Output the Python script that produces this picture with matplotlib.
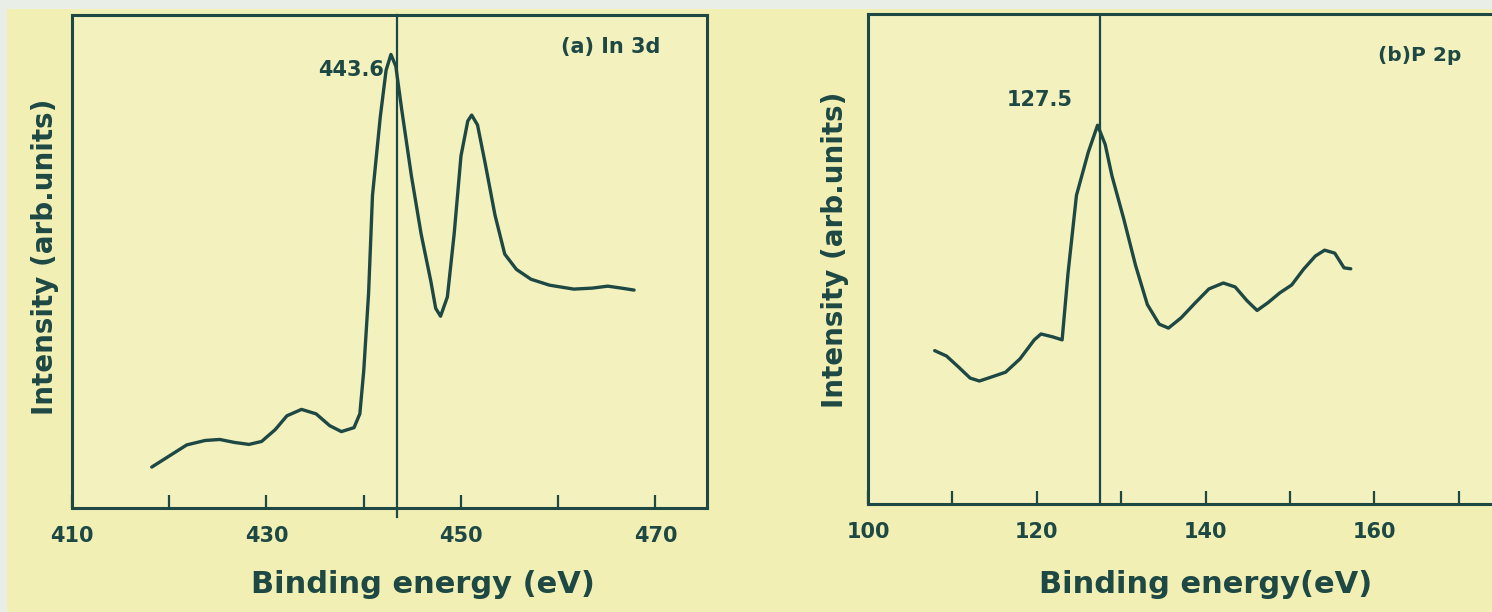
import matplotlib
matplotlib.use("Agg")
import matplotlib.pyplot as plt
from matplotlib.patches import Rectangle

# ---------------- data ----------------
# (a) In 3d spectrum
in3d_energy = [418.2, 419.8, 421.8, 423.7, 425.2, 426.7, 428.2, 429.5, 430.9, 432.1,
               433.6, 435.1, 436.5, 437.7, 439.0, 439.6, 440.0, 440.5, 440.9, 441.7,
               442.3, 442.8, 443.3, 443.9, 444.9, 445.9, 446.9, 447.4, 447.9, 448.6,
               449.3, 450.0, 450.7, 451.1, 451.7, 452.5, 453.5, 454.5, 455.7, 457.2,
               459.1, 461.6, 463.5, 465.1, 466.5, 467.8]
in3d_intensity = [8.3, 10.3, 12.8, 13.7, 13.9, 13.3, 12.9, 13.5, 15.9, 18.7,
                  20.0, 19.1, 16.7, 15.5, 16.3, 19.1, 27.8, 43.6, 63.4, 79.3,
                  88.8, 92.0, 89.6, 80.9, 67.4, 55.6, 46.0, 40.5, 38.9, 42.8,
                  55.6, 71.4, 78.5, 79.7, 77.7, 69.8, 59.4, 51.5, 48.4, 46.4,
                  45.2, 44.4, 44.6, 45.0, 44.6, 44.2]
in3d_peak = 443.4
in3d_peak_label = "443.6"

# (b) P 2p spectrum
p2p_energy = [107.9, 109.3, 110.7, 112.1, 113.2, 114.6, 116.3, 118.0, 119.7, 120.5,
              121.9, 123.0, 123.7, 124.7, 126.1, 127.2, 128.1, 128.9, 130.3, 131.7,
              133.1, 134.5, 135.6, 137.1, 138.8, 140.4, 142.1, 143.5, 144.9, 146.1,
              147.4, 148.8, 150.2, 151.6, 153.0, 154.1, 155.3, 156.4, 157.2]
p2p_intensity = [31.3, 30.2, 28.0, 25.7, 25.1, 25.9, 26.9, 29.6, 33.5, 34.7,
                 34.1, 33.5, 47.1, 63.0, 71.8, 77.3, 73.4, 67.0, 58.2, 48.7,
                 40.7, 36.7, 35.9, 38.0, 41.1, 43.9, 45.1, 44.3, 41.5, 39.5,
                 41.1, 43.1, 44.7, 47.9, 50.6, 51.8, 51.2, 48.2, 48.0]
p2p_peak = 127.5
p2p_peak_label = "127.5"

in3d_ticks = [410, 430, 450, 470]
in3d_minor = [420, 440, 460]
p2p_ticks = [100, 120, 140, 160]
p2p_minor = [110, 130, 150, 170]

# ---------------- style ----------------
BG = "#f1efb4"
AX_BG = "#f3f1bd"
INK = "#1d4844"

plt.rcParams['font.family'] = ['DejaVu Sans']

fig = plt.figure(figsize=(14.92, 6.12), dpi=100, facecolor=BG)
fig.patches.append(Rectangle((0, 0.985), 1, 0.015, transform=fig.transFigure,
                             facecolor="#e9eee6", edgecolor="none", zorder=-1))
fig.patches.append(Rectangle((0, 0), 0.005, 1, transform=fig.transFigure,
                             facecolor="#e9eee6", edgecolor="none", zorder=-1))

W, H = 1492.0, 612.0
ax1 = fig.add_axes([72 / W, 1 - 508 / H, (707 - 72) / W, (508 - 15) / H])
ax2 = fig.add_axes([868 / W, 1 - 504 / H, (1501 - 868) / W, (504 - 14) / H])


def style(ax, xlim, ticks, minors):
    ax.set_facecolor(AX_BG)
    ax.set_xticks(ticks)
    ax.set_xticklabels([str(t) for t in ticks])
    ax.set_xticks(minors, minor=True)
    ax.set_xlim(*xlim)
    ax.set_ylim(0, 100)
    ax.set_yticks([])
    ax.tick_params(axis='x', which='both', direction='in', length=9.5, width=1.6,
                   color=INK, labelcolor=INK, labelsize=15, pad=13)
    for lab in ax.get_xticklabels():
        lab.set_fontweight('bold')
    for sp in ax.spines.values():
        sp.set_color(INK)
        sp.set_linewidth(2.2)


style(ax1, (410, 475.3), in3d_ticks, in3d_minor)
style(ax2, (100, 175), p2p_ticks, p2p_minor)
ax2.spines['right'].set_visible(False)

ax1.plot(in3d_energy, in3d_intensity, color=INK, lw=2.4, solid_joinstyle='round',
         solid_capstyle='round')
ax2.plot(p2p_energy, p2p_intensity, color=INK, lw=2.4, solid_joinstyle='round',
         solid_capstyle='round')

ax1.axvline(in3d_peak, ymin=-0.018, ymax=1, color=INK, lw=1.6, clip_on=False)
ax2.axvline(p2p_peak, ymin=0, ymax=1, color=INK, lw=1.6)

tkw = dict(fontsize=15, color=INK, fontweight='bold')
ax1.text(442.1, 88.8, in3d_peak_label, ha='right', va='center', **tkw)
ax1.text(465.4, 93.5, "(a) In 3d", ha='center', va='center', **tkw)
ax2.text(120.3, 82.4, p2p_peak_label, ha='center', va='center', **tkw)
ax2.text(165.4, 91.6, "(b)P 2p", ha='center', va='center', fontsize=14.5,
         color=INK, fontweight='bold')

lkw = dict(color=INK, fontweight='bold')
ax1.set_xlabel("Binding energy (eV)", fontsize=22, **lkw)
ax1.xaxis.set_label_coords(0.553, -0.156)
ax1.xaxis.label.set_va('center')
ax1.set_ylabel("Intensity (arb.units)", fontsize=20, **lkw)
ax1.yaxis.set_label_coords(-0.0425, 0.509)
ax1.yaxis.label.set_va('center')

ax2.set_xlabel("Binding energy(eV)", fontsize=22, **lkw)
ax2.xaxis.set_label_coords(0.534, -0.165)
ax2.xaxis.label.set_va('center')
ax2.set_ylabel("Intensity (arb.units)", fontsize=20, **lkw)
ax2.yaxis.set_label_coords(-0.052, 0.518)
ax2.yaxis.label.set_va('center')

fig.savefig("out.png", dpi=100, facecolor=BG)
